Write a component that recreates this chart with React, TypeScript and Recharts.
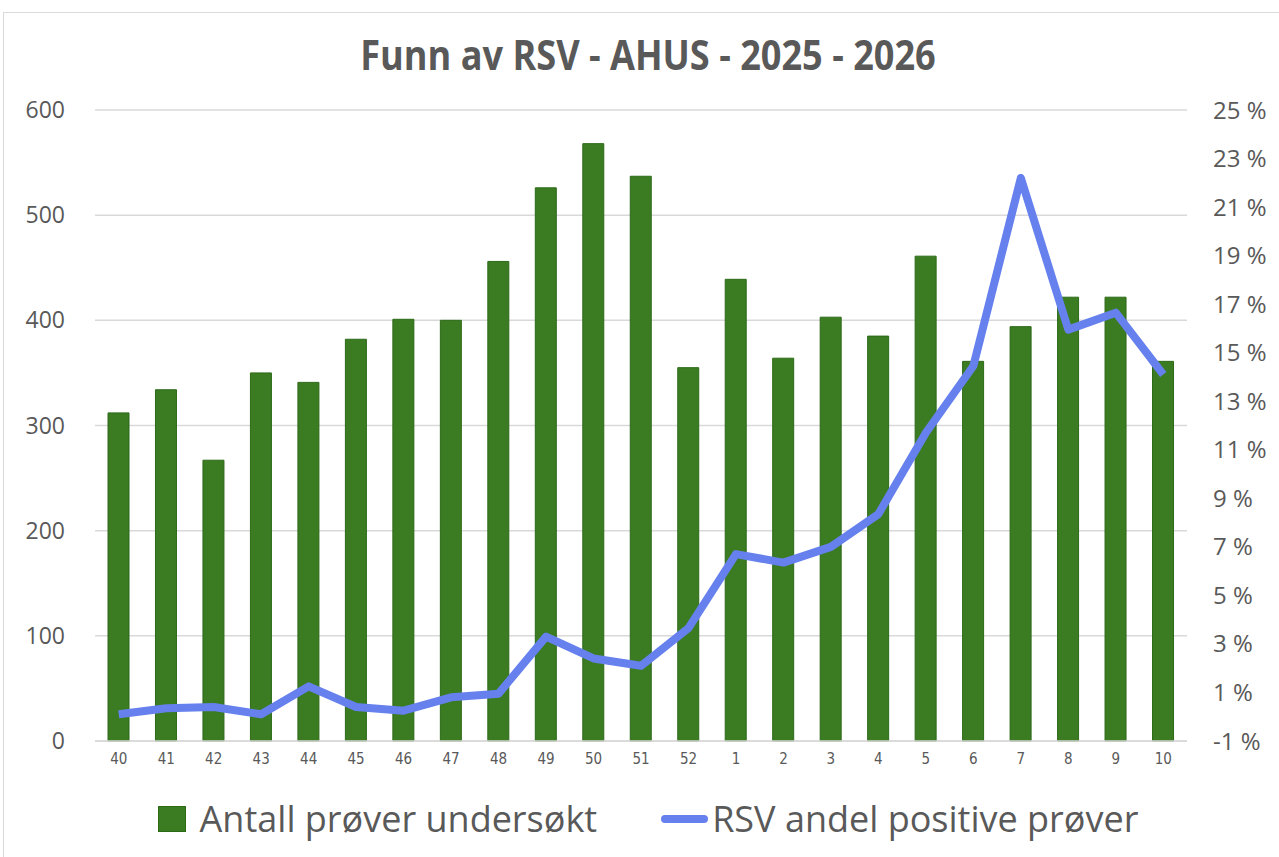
import {
  Bar,
  CartesianGrid,
  ComposedChart,
  Line,
  XAxis,
  YAxis,
} from 'recharts'

const weeks = ['40', '41', '42', '43', '44', '45', '46', '47', '48', '49', '50', '51', '52', '1', '2', '3', '4', '5', '6', '7', '8', '9', '10']
const tested = [312, 334, 267, 350, 341, 382, 401, 400, 456, 526, 568, 537, 355, 439, 364, 403, 385, 461, 361, 394, 422, 422, 361]
const positivePct = [0.1, 0.35, 0.4, 0.1, 1.25, 0.4, 0.25, 0.8, 0.95, 3.3, 2.4, 2.1, 3.65, 6.7, 6.35, 7.0, 8.35, 11.7, 14.45, 22.2, 15.95, 16.65, 14.1]
const leftTicks = [0, 100, 200, 300, 400, 500, 600]
const rightTicks = [-1, 1, 3, 5, 7, 9, 11, 13, 15, 17, 19, 21, 23, 25]

const data = weeks.map((w, i) => ({ week: w, tested: tested[i], pct: positivePct[i] }))

const GREEN = '#3b7b22'
const BLUE = '#6680ee'
const TEXT = '#595959'
const FONT = "'Open Sans', 'Noto Sans', sans-serif"
const NARROW = "'Liberation Sans Narrow', 'DejaVu Sans Condensed', sans-serif"

export default function App() {
  return (
    <div style={{ position: 'absolute', left: 0, top: 0, width: 1279, height: 857, background: '#fff' }}>
      <div
        style={{
          position: 'absolute',
          left: 3,
          top: 12,
          right: -2,
          bottom: -2,
          border: '1px solid #d9d9d9',
        }}
      />
      <div
        style={{
          position: 'absolute',
          left: 0,
          width: 1296,
          top: 26,
          textAlign: 'center',
          fontFamily: FONT,
          fontWeight: 'bold',
          fontSize: 42,
          color: TEXT,
          lineHeight: '56px',
          transform: 'scaleX(0.86)',
        }}
      >
        Funn av RSV - AHUS - 2025 - 2026
      </div>
      <div style={{ position: 'absolute', left: 0, top: 0 }}>
        <ComposedChart
          width={1279}
          height={857}
          data={data}
          margin={{ top: 110, right: 12, bottom: 86, left: 25 }}
        >
          <CartesianGrid yAxisId="left" vertical={false} stroke="#d9d9d9" strokeWidth={1.5} />
          <XAxis
            dataKey="week"
            tickLine={false}
            axisLine={{ stroke: '#d9d9d9', strokeWidth: 1.5 }}
            tickMargin={6}
            interval={0}
            height={30}
            tick={{ fontSize: 15, fill: TEXT, fontFamily: NARROW }}
          />
          <YAxis
            yAxisId="left"
            domain={[0, 600]}
            ticks={leftTicks}
            width={70}
            axisLine={false}
            tickLine={false}
            tickMargin={24}
            tick={{ fontSize: 23, fill: TEXT, fontFamily: FONT }}
          />
          <YAxis
            yAxisId="right"
            orientation="right"
            domain={[-1, 25]}
            ticks={rightTicks}
            width={80}
            axisLine={false}
            tickLine={false}
            tickMargin={20}
            tickFormatter={(v) => v + ' %'}
            tick={{ fontSize: 24, fill: TEXT, fontFamily: FONT }}
          />
          <Bar
            yAxisId="left"
            dataKey="tested"
            fill={GREEN}
            stroke="#2c6a18"
            strokeWidth={1}
            barSize={21}
            isAnimationActive={false}
          />
          <Line
            yAxisId="right"
            type="linear"
            dataKey="pct"
            stroke={BLUE}
            strokeWidth={8}
            strokeLinejoin="round"
            dot={false}
            activeDot={false}
            isAnimationActive={false}
          />
        </ComposedChart>
      </div>
      <div
        style={{
          position: 'absolute',
          top: 794,
          left: 0,
          width: 1296,
          display: 'flex',
          justifyContent: 'center',
          alignItems: 'center',
          fontFamily: FONT,
          fontSize: 36,
          color: TEXT,
          whiteSpace: 'nowrap',
        }}
      >
        <span style={{ width: 28, height: 26, background: GREEN, border: '1px solid #2c6a18', boxSizing: 'border-box', marginRight: 14 }} />
        <span>Antall prøver undersøkt</span>
        <span style={{ width: 47, height: 8, borderRadius: 4, background: BLUE, marginLeft: 64, marginRight: 4 }} />
        <span>RSV andel positive prøver</span>
      </div>
    </div>
  )
}
